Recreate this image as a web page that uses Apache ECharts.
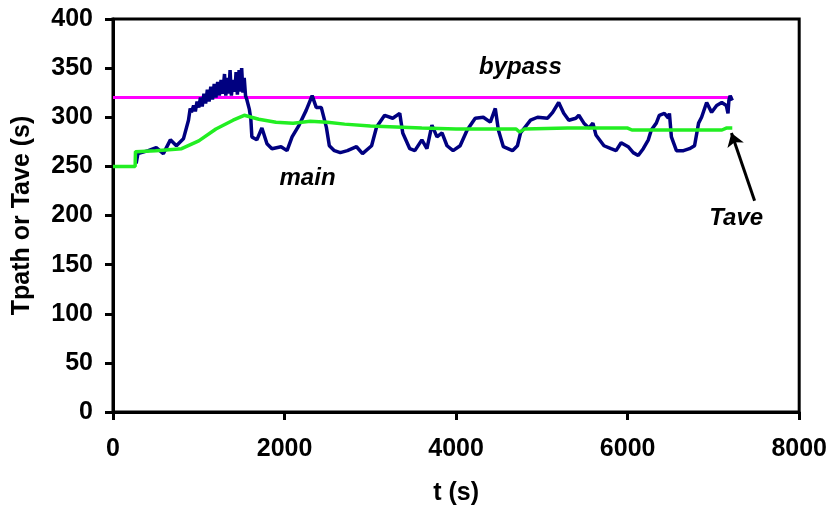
<!DOCTYPE html>
<html>
<head>
<meta charset="utf-8">
<script src="https://cdn.jsdelivr.net/npm/echarts@6/dist/echarts.min.js"></script>
<style>
  html, body { margin: 0; padding: 0; background: #fff; }
  #chart { width: 830px; height: 517px; }
</style>
</head>
<body>
<div id="chart"></div>
<script>
// main path delay
var mainT = [270, 290, 411, 504, 587, 669, 739, 821, 880, 900, 915, 940, 960, 980, 1000, 1020, 1040, 1060, 1080, 1100, 1120, 1140, 1160, 1180, 1200, 1220, 1240, 1260, 1280, 1300, 1315, 1335, 1350, 1365, 1380, 1400, 1420, 1435, 1450, 1470, 1485, 1500, 1515, 1530, 1545, 1560, 1590, 1607, 1619, 1677, 1736, 1795, 1853, 1959, 2029, 2088, 2170, 2252, 2322, 2369, 2428, 2487, 2522, 2581, 2650, 2733, 2839, 2909, 3015, 3073, 3167, 3261, 3343, 3378, 3460, 3519, 3601, 3660, 3718, 3777, 3836, 3894, 3965, 4047, 4129, 4223, 4317, 4399, 4457, 4493, 4551, 4657, 4715, 4751, 4868, 4950, 5067, 5126, 5196, 5255, 5314, 5396, 5431, 5490, 5548, 5595, 5630, 5724, 5806, 5865, 5924, 6006, 6065, 6123, 6182, 6241, 6276, 6334, 6369, 6428, 6475, 6487, 6510, 6569, 6651, 6721, 6780, 6827, 6862, 6921, 6979, 7038, 7097, 7150, 7170, 7180, 7195, 7220];
var mainV = [253, 263, 266, 269, 263, 277, 271, 278, 297, 309, 305, 312, 306, 316, 310, 320, 311, 324, 314, 328, 316, 331, 318, 334, 320, 336, 322, 338, 324, 344, 322, 340, 324, 348, 322, 338, 326, 346, 323, 348, 326, 350, 325, 340, 322, 318, 308, 298, 280, 277, 289, 273, 268, 270, 266, 280, 292, 307, 322, 310, 310, 290, 271, 266, 264, 266, 270, 263, 271, 290, 302, 299, 304, 284, 268, 266, 277, 268, 292, 280, 284, 271, 266, 271, 287, 299, 300, 295, 309, 287, 270, 266, 271, 284, 297, 300, 299, 305, 315, 304, 297, 299, 302, 294, 289, 294, 282, 271, 268, 266, 274, 270, 264, 261, 268, 277, 287, 294, 302, 304, 299, 304, 280, 266, 266, 268, 271, 294, 300, 315, 305, 312, 315, 312, 304, 317, 322, 317];

// average delay
var taveT = [0, 258, 262, 500, 800, 1000, 1200, 1400, 1530, 1700, 1900, 2100, 2300, 2500, 2700, 3000, 3300, 3600, 4000, 4700, 4740, 4800, 5300, 6000, 6050, 7100, 7150, 7220];
var taveV = [250, 250, 265, 266, 268, 276, 288, 297, 302, 298, 295, 294, 296, 295, 293, 291, 290, 289, 288, 288, 285, 288, 289, 289, 287, 287, 289, 289];

// bypass path delay
var bypassT = [0, 7220];
var bypassV = [320, 320];

var xTicks = [0, 2000, 4000, 6000, 8000];
var yTicks = [0, 50, 100, 150, 200, 250, 300, 350, 400];

function pairs(t, v) {
  return t.map(function (x, i) { return [x, v[i]]; });
}

var font = 'Liberation Sans, Arial, sans-serif';
var lblStyle = { fontFamily: font, fontWeight: 'bold', fontStyle: 'italic', fontSize: 24, color: '#000' };

var chart = echarts.init(document.getElementById('chart'));
chart.setOption({
  animation: false,
  grid: { left: 113, right: 30, top: 19, bottom: 105, show: true, borderColor: '#000', borderWidth: 3 },
  xAxis: {
    type: 'value', min: 0, max: 8000, interval: 2000,
    name: 't (s)', nameLocation: 'middle', nameGap: 69,
    nameTextStyle: { fontFamily: font, fontWeight: 'bold', fontSize: 25, color: '#000' },
    axisLine: { lineStyle: { color: '#000', width: 3 } },
    axisTick: { inside: false, length: 8, lineStyle: { color: '#000', width: 3 } },
    axisLabel: { margin: 25, fontFamily: font, fontWeight: 'bold', fontSize: 25, color: '#000',
      formatter: function (v) { return xTicks.indexOf(v) >= 0 ? v : ''; } },
    splitLine: { show: false }
  },
  yAxis: {
    type: 'value', min: 0, max: 400, interval: 50,
    name: 'Tpath or Tave (s)', nameLocation: 'middle', nameGap: 78,
    nameTextStyle: { fontFamily: font, fontWeight: 'bold', fontSize: 25, color: '#000' },
    axisLine: { lineStyle: { color: '#000', width: 3 } },
    axisTick: { inside: false, length: 8, lineStyle: { color: '#000', width: 3 } },
    axisLabel: { margin: 20, fontFamily: font, fontWeight: 'bold', fontSize: 25, color: '#000',
      formatter: function (v) { return yTicks.indexOf(v) >= 0 ? v : ''; } },
    splitLine: { show: false }
  },
  series: [
    {
      name: 'main', type: 'line', data: pairs(mainT, mainV), showSymbol: false,
      lineStyle: { color: '#000080', width: 3.5 }, z: 3,
      markPoint: {
        symbol: 'circle', symbolSize: 0,
        label: Object.assign({ show: true, formatter: 'main' }, lblStyle),
        data: [{ coord: [2268, 238] }]
      }
    },
    {
      name: 'Tave', type: 'line', data: pairs(taveT, taveV), showSymbol: false,
      lineStyle: { color: '#22ee22', width: 3.5 }, z: 4,
      markPoint: {
        symbol: 'circle', symbolSize: 0,
        label: Object.assign({ show: true, formatter: 'Tave' }, lblStyle),
        data: [{ coord: [7266, 197] }]
      },
      markLine: {
        silent: true, symbol: ['none', 'arrow'], symbolSize: 13,
        lineStyle: { color: '#000', width: 3, type: 'solid' },
        label: { show: false },
        data: [[{ coord: [7480, 215] }, { coord: [7210, 284] }]]
      }
    },
    {
      name: 'bypass', type: 'line', data: pairs(bypassT, bypassV), showSymbol: false,
      lineStyle: { color: '#ff00ff', width: 3 }, z: 2,
      markPoint: {
        symbol: 'circle', symbolSize: 0,
        label: Object.assign({ show: true, formatter: 'bypass' }, lblStyle),
        data: [{ coord: [4750, 351] }]
      }
    }
  ]
});
</script>
</body>
</html>
